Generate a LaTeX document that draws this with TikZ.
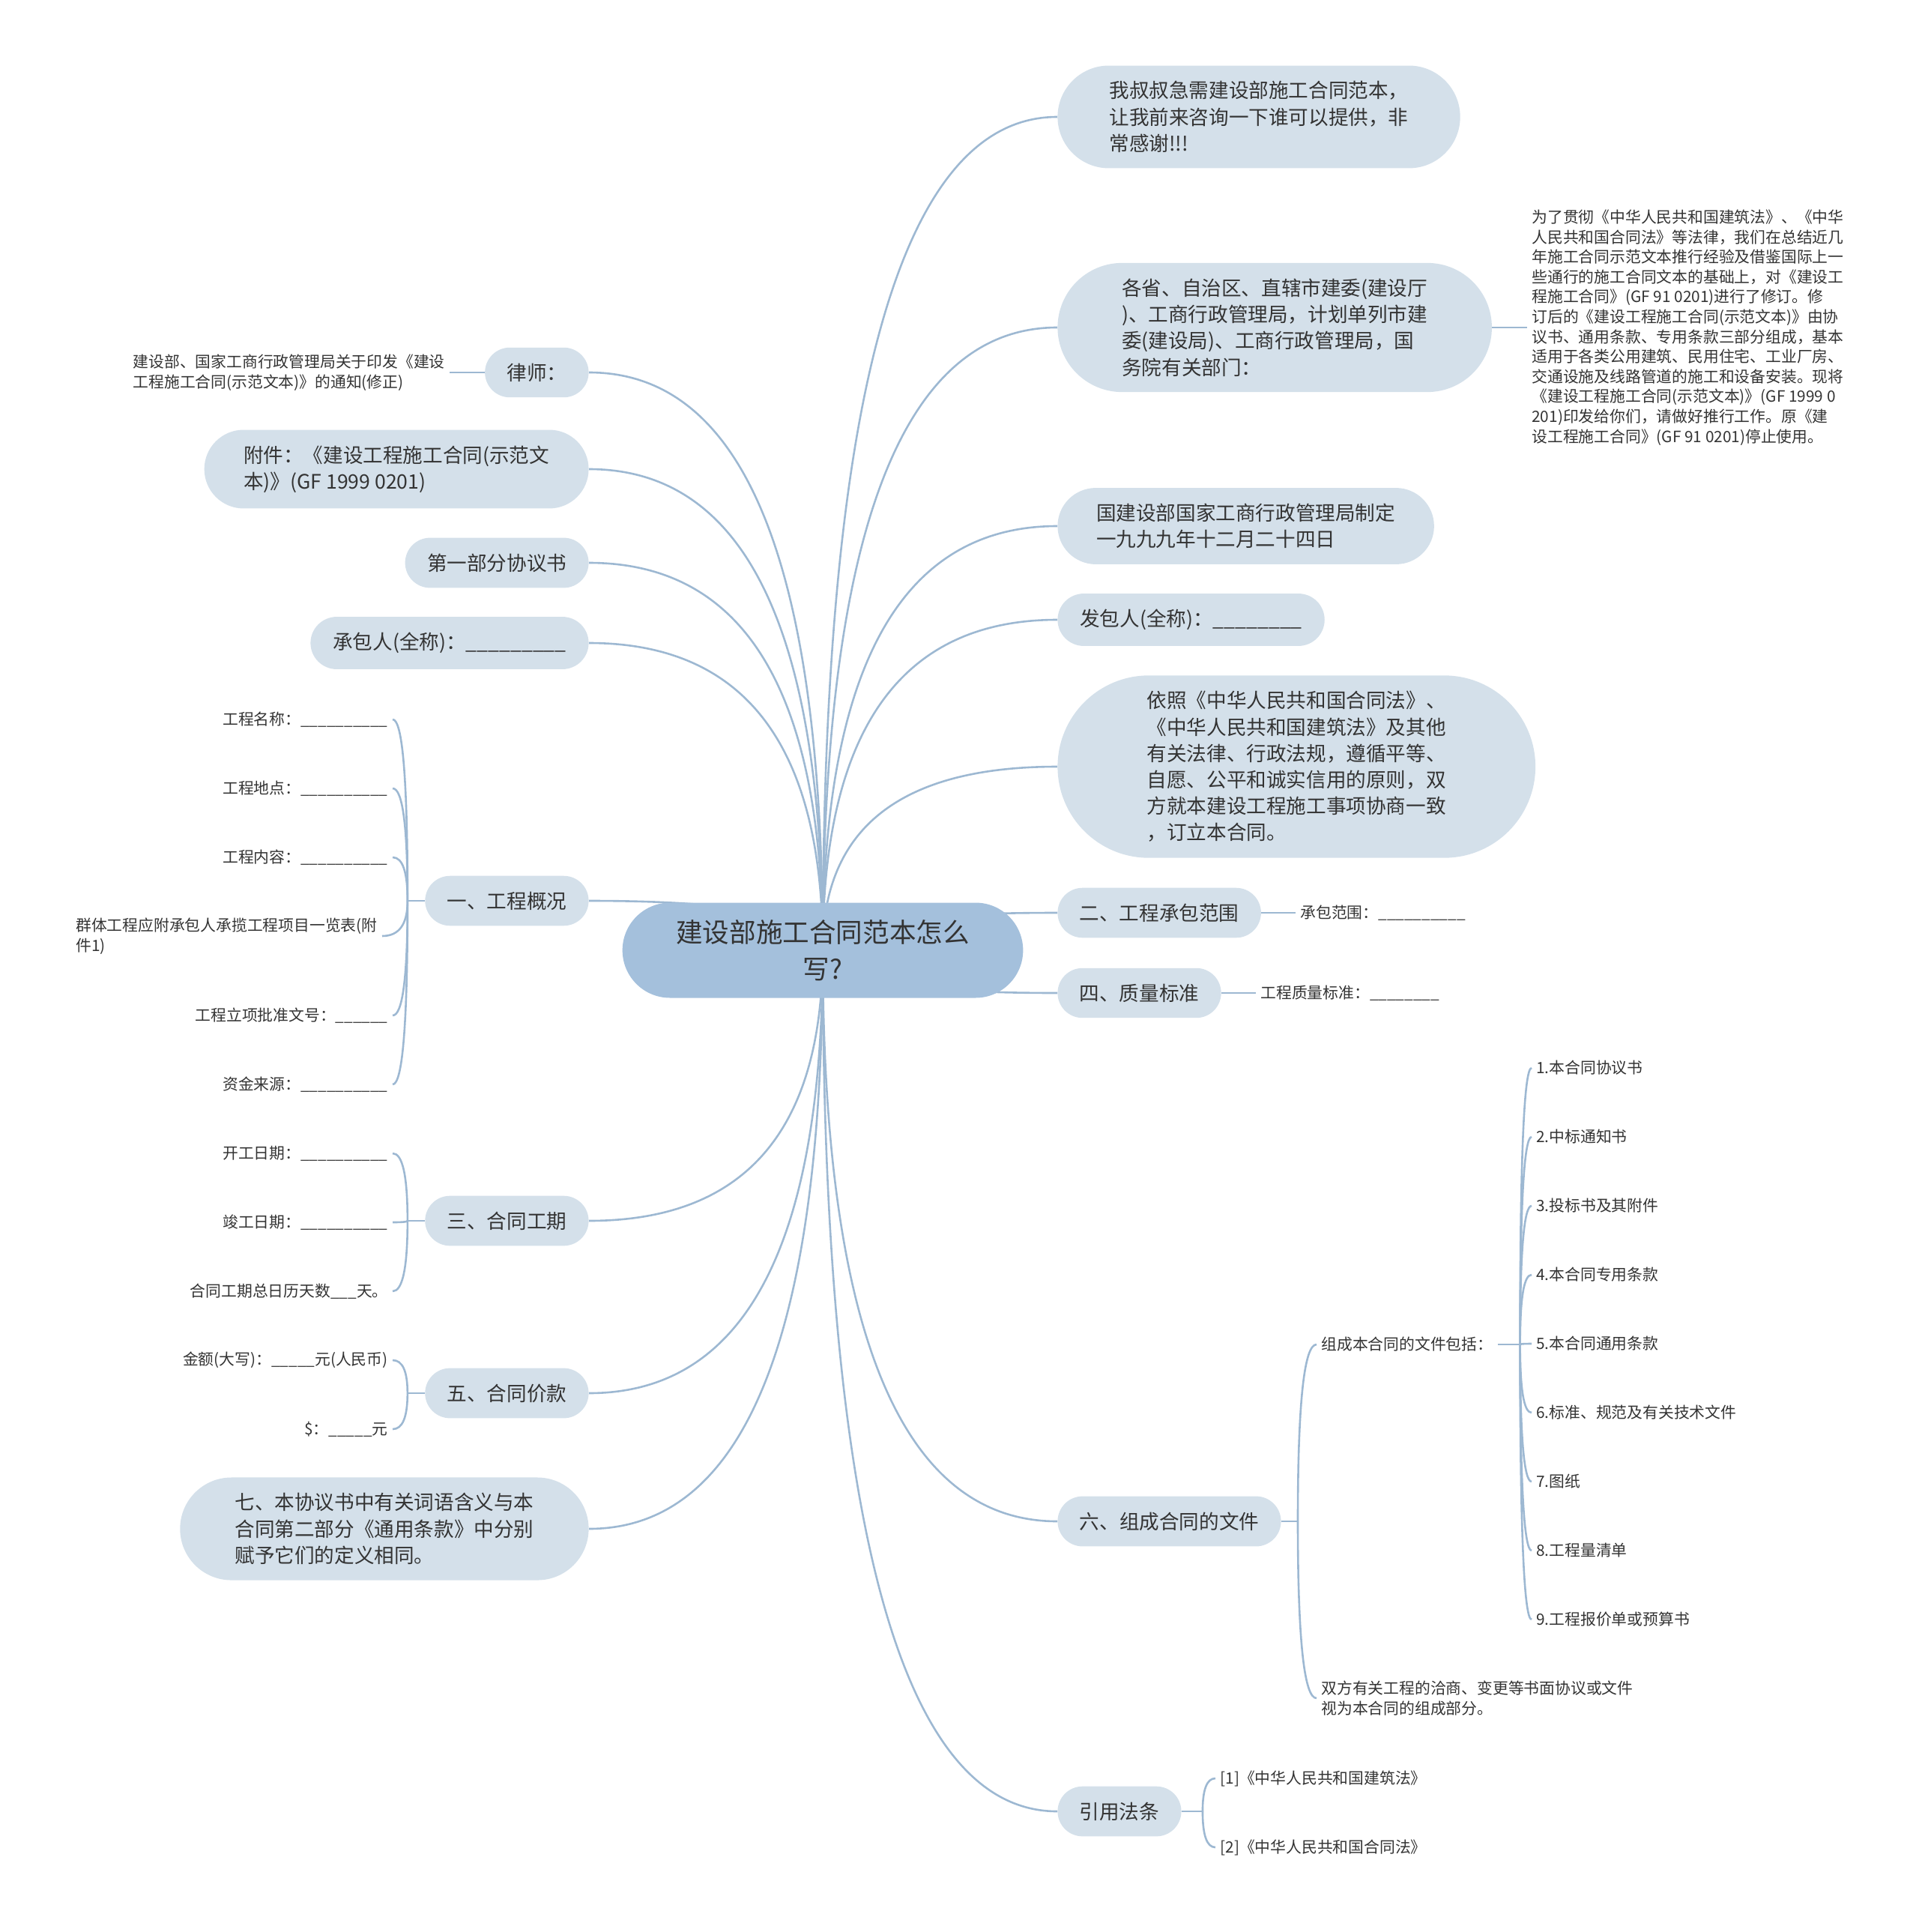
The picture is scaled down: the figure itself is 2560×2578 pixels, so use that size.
\documentclass[tikz,border=0pt]{standalone}
\usepackage{fontspec}
\setmainfont{Noto Sans CJK SC}
\usetikzlibrary{shapes.misc, calc, positioning}

\pgfdeclarelayer{bg}
\pgfsetlayers{bg,main}

\definecolor{rootblue}{HTML}{A4C0DC}
\definecolor{topicblue}{HTML}{D4E0EA}
\definecolor{linkblue}{HTML}{9DB8D2}
\definecolor{inkgrey}{HTML}{333333}

\newcommand{\rootfont}{\fontsize{17.8}{24.5}\selectfont}
\newcommand{\topicfont}{\fontsize{13.3}{17.6}\selectfont}
\newcommand{\leaffont}{\fontsize{10.4}{13.3}\selectfont}

\begin{document}
\begin{tikzpicture}[
    x=0.5pt, y=-0.5pt,                % <── one unit = one pixel of the sketch
    every node/.style={text=inkgrey},
    root_node/.style={rounded rectangle, fill=rootblue, font=\rootfont, align=center,
                      minimum width=274pt, minimum height=63.5pt},
    topic_node/.style={rounded rectangle, fill=topicblue, font=\topicfont, align=left,
                       inner xsep=13.5pt, inner ysep=10.5pt, minimum height=30.5pt},
    leaf_node/.style={font=\leaffont, align=left, inner sep=3pt},
    link/.style={draw=linkblue, line width=1.3pt},
    branch/.style={to path={.. controls ($(\tikztostart)!2/3!(\tikztostart|-\tikztotarget)$)
                   and ($(\tikztotarget)!2/3!(\tikztostart|-\tikztotarget)$) .. (\tikztotarget)}}
    ]
    \useasboundingbox (0,0) rectangle (2560,2578);

    % Root
    \node[root_node] (ctr) at (1098,1268) {建设部施工合同范本怎么\\写?};

    % Right side topics
    \node[topic_node, anchor=west, inner xsep=25pt] (q1) at (1411,156) {我叔叔急需建设部施工合同范本，\\让我前来咨询一下谁可以提供，非\\常感谢!!!};
    \node[topic_node, anchor=west, inner xsep=28pt] (q2) at (1411,437) {各省、自治区、直辖市建委(建设厅\\)、工商行政管理局，计划单列市建\\委(建设局)、工商行政管理局，国\\务院有关部门：};
    \node[topic_node, anchor=west, inner xsep=21pt] (q3) at (1411,702) {国建设部国家工商行政管理局制定\\一九九九年十二月二十四日};
    \node[topic_node, anchor=west] (q4) at (1411,827) {发包人(全称)：\_\_\_\_\_\_\_\_};
    \node[topic_node, anchor=west, inner xsep=33pt] (q5) at (1411,1023) {依照《中华人民共和国合同法》、\\《中华人民共和国建筑法》及其他\\有关法律、行政法规，遵循平等、\\自愿、公平和诚实信用的原则，双\\方就本建设工程施工事项协商一致\\，订立本合同。};
    \node[topic_node, anchor=west] (q6) at (1411,1218) {二、工程承包范围};
    \node[topic_node, anchor=west] (q7) at (1411,1325) {四、质量标准};
    \node[topic_node, anchor=west] (q8) at (1411,2030) {六、组成合同的文件};
    \node[topic_node, anchor=west] (q9) at (1411,2417) {引用法条};

    % Left side topics
    \node[topic_node, anchor=east] (p1) at (786,497) {律师：};
    \node[topic_node, anchor=east, inner xsep=21pt] (p2) at (786,626) {附件：《建设工程施工合同(示范文\\本)》(GF 1999 0201)};
    \node[topic_node, anchor=east] (p3) at (786,751) {第一部分协议书};
    \node[topic_node, anchor=east] (p4) at (786,858) {承包人(全称)：\_\_\_\_\_\_\_\_\_};
    \node[topic_node, anchor=east] (p5) at (786,1202) {一、工程概况};
    \node[topic_node, anchor=east] (p6) at (786,1629) {三、合同工期};
    \node[topic_node, anchor=east] (p7) at (786,1859) {五、合同价款};
    \node[topic_node, anchor=east, inner xsep=27pt] (p8) at (786,2040) {七、本协议书中有关词语含义与本\\合同第二部分《通用条款》中分别\\赋予它们的定义相同。};

    % Leaves, right
    \node[leaf_node, anchor=west] (q2a) at (2038,437) {为了贯彻《中华人民共和国建筑法》、《中华\\人民共和国合同法》等法律，我们在总结近几\\年施工合同示范文本推行经验及借鉴国际上一\\些通行的施工合同文本的基础上，对《建设工\\程施工合同》(GF 91 0201)进行了修订。修\\订后的《建设工程施工合同(示范文本)》由协\\议书、通用条款、专用条款三部分组成，基本\\适用于各类公用建筑、民用住宅、工业厂房、\\交通设施及线路管道的施工和设备安装。现将\\《建设工程施工合同(示范文本)》(GF 1999 0\\201)印发给你们，请做好推行工作。原《建\\设工程施工合同》(GF 91 0201)停止使用。};
    \node[leaf_node, anchor=west] (q6a) at (1729,1218) {承包范围：\_\_\_\_\_\_\_\_\_\_};
    \node[leaf_node, anchor=west] (q7a) at (1676,1325) {工程质量标准：\_\_\_\_\_\_\_\_};
    \node[leaf_node, anchor=west] (q8a) at (1757,1794) {组成本合同的文件包括：};
    \node[leaf_node, anchor=west] (q8b) at (1757,2266) {双方有关工程的洽商、变更等书面协议或文件\\视为本合同的组成部分。};
    \foreach \t [count=\i] in {1.本合同协议书, 2.中标通知书, 3.投标书及其附件, 4.本合同专用条款,
        5.本合同通用条款, 6.标准、规范及有关技术文件, 7.图纸, 8.工程量清单, 9.工程报价单或预算书}
        \node[leaf_node, anchor=west] (r\i) at (2044,1333+92*\i) {\t};
    \node[leaf_node, anchor=west] (q9a) at (1622,2373) {[1]《中华人民共和国建筑法》};
    \node[leaf_node, anchor=west] (q9b) at (1622,2465) {[2]《中华人民共和国合同法》};

    % Leaves, left
    \node[leaf_node, anchor=east] (p1a) at (600,497) {建设部、国家工商行政管理局关于印发《建设\\工程施工合同(示范文本)》的通知(修正)};
    \node[leaf_node, anchor=east] (p5a) at (524,960) {工程名称：\_\_\_\_\_\_\_\_\_\_};
    \node[leaf_node, anchor=east] (p5b) at (524,1052) {工程地点：\_\_\_\_\_\_\_\_\_\_};
    \node[leaf_node, anchor=east] (p5c) at (524,1144) {工程内容：\_\_\_\_\_\_\_\_\_\_};
    \node[leaf_node, anchor=east] (p5d) at (510,1249) {群体工程应附承包人承揽工程项目一览表(附\\件1)};
    \node[leaf_node, anchor=east] (p5e) at (524,1355) {工程立项批准文号：\_\_\_\_\_\_};
    \node[leaf_node, anchor=east] (p5f) at (524,1447) {资金来源：\_\_\_\_\_\_\_\_\_\_};
    \node[leaf_node, anchor=east] (p6a) at (524,1539) {开工日期：\_\_\_\_\_\_\_\_\_\_};
    \node[leaf_node, anchor=east] (p6b) at (524,1631) {竣工日期：\_\_\_\_\_\_\_\_\_\_};
    \node[leaf_node, anchor=east] (p6c) at (524,1723) {合同工期总日历天数\_\_\_天。};
    \node[leaf_node, anchor=east] (p7a) at (524,1815) {金额(大写)：\_\_\_\_\_元(人民币)};
    \node[leaf_node, anchor=east] (p7b) at (524,1907) {\$：\_\_\_\_\_元};

    % Junctions
    \coordinate (p5j) at ([xshift=-11.5pt]p5.west);
    \coordinate (p6j) at ([xshift=-11.5pt]p6.west);
    \coordinate (p7j) at ([xshift=-11.5pt]p7.west);
    \coordinate (q8j) at ([xshift=11pt]q8.east);
    \coordinate (q8aj) at ([xshift=15pt]q8a.east);
    \coordinate (q9j) at ([xshift=14pt]q9.east);

    % Connectors
    \begin{pgfonlayer}{bg}
        \foreach \n in {q1,q2,q3,q4,q5,q6,q7,q8,q9}
            \draw[link] (ctr.center) to[branch] (\n.west);
        \foreach \n in {p1,p2,p3,p4,p5,p6,p7,p8}
            \draw[link] (ctr.center) to[branch] (\n.east);

        \draw[link] (p1.west) -- (p1a.east);
        \draw[link] (q2.east) -- (q2a.west);
        \draw[link] (q6.east) -- (q6a.west);
        \draw[link] (q7.east) -- (q7a.west);

        \draw[link] (p5.west) -- (p5j);
        \foreach \n in {p5a,p5b,p5c,p5d,p5e,p5f}
            \draw[link] (p5j) to[branch] (\n.east);
        \draw[link] (p6.west) -- (p6j);
        \foreach \n in {p6a,p6b,p6c}
            \draw[link] (p6j) to[branch] (\n.east);
        \draw[link] (p7.west) -- (p7j);
        \foreach \n in {p7a,p7b}
            \draw[link] (p7j) to[branch] (\n.east);

        \draw[link] (q8.east) -- (q8j);
        \foreach \n in {q8a,q8b}
            \draw[link] (q8j) to[branch] (\n.west);
        \draw[link] (q8a.east) -- (q8aj);
        \foreach \i in {1,...,9}
            \draw[link] (q8aj) to[branch] (r\i.west);
        \draw[link] (q9.east) -- (q9j);
        \foreach \n in {q9a,q9b}
            \draw[link] (q9j) to[branch] (\n.west);
    \end{pgfonlayer}
\end{tikzpicture}
\end{document}
